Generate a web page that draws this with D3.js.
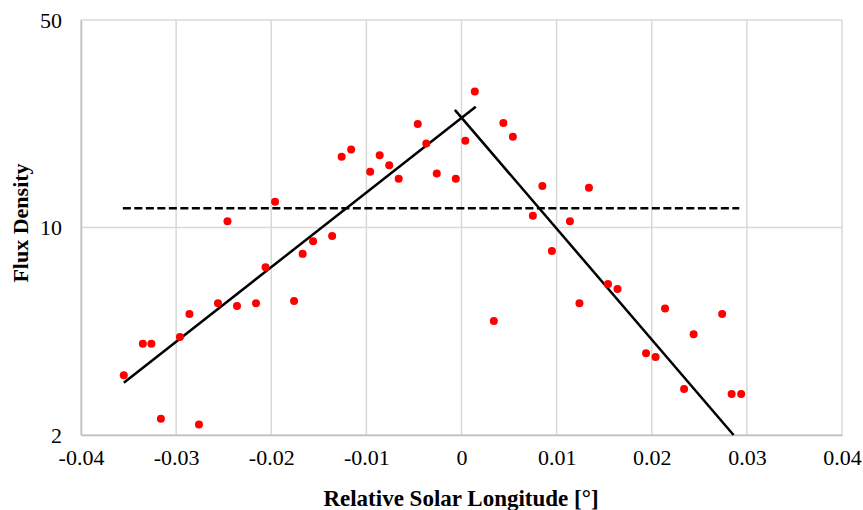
<!DOCTYPE html>
<html>
<head>
<meta charset="utf-8">
<script src="https://cdn.jsdelivr.net/npm/d3@7"></script>
<style>
  html, body { margin: 0; padding: 0; background: #fff; }
  svg { display: block; }
  text { font-family: "Liberation Serif", "Times New Roman", serif; fill: #000; }
</style>
</head>
<body>
<svg id="chart" width="863" height="510"></svg>
<script>
// Relative solar longitude (deg) of each observation
const longitude = [
  -0.0355, -0.0335, -0.0326, -0.0316, -0.0296, -0.0286, -0.0276, -0.0256,
  -0.0246, -0.0236, -0.0216, -0.0206, -0.0196, -0.0176, -0.0167, -0.0156,
  -0.0136, -0.0126, -0.0116, -0.0096, -0.0086, -0.0076, -0.0066, -0.0046,
  -0.0037, -0.0026, -0.0006, 0.0004, 0.0014, 0.0034, 0.0044, 0.0054,
  0.0075, 0.0085, 0.0095, 0.0114, 0.0124, 0.0134, 0.0154, 0.0164,
  0.0194, 0.0204, 0.0214, 0.0234, 0.0244, 0.0274, 0.0284, 0.0294
];
// Measured flux density at each longitude
const flux = [
  3.18, 4.06, 4.06, 2.27, 4.28, 5.11, 2.17, 5.56,
  10.5, 5.44, 5.56, 7.35, 12.2, 5.66, 8.15, 8.99,
  9.36, 17.3, 18.3, 15.4, 17.5, 16.2, 14.6, 22.3,
  19.2, 15.2, 14.6, 19.6, 28.7, 4.84, 22.5, 20.2,
  10.96, 13.8, 8.33, 10.5, 5.56, 13.6, 6.45, 6.21,
  3.77, 3.66, 5.34, 2.86, 4.37, 5.11, 2.75, 2.75
];
// Exponential fits (straight on the log axis): endpoints [longitude, flux]
const risingFit = [[-0.0355, 3.0], [0.0015, 25.5]];
const fallingFit = [[-0.0007, 24.9], [0.0286, 2.0]];
// Background level
const backgroundLevel = 11.6;
const backgroundRange = [-0.0356, 0.0292];

const xTicks = [-0.04, -0.03, -0.02, -0.01, 0, 0.01, 0.02, 0.03, 0.04];
const yTicks = [2, 10, 50];

const W = 863, H = 510;
const margin = { top: 20, right: 21, bottom: 75, left: 81 };
const iw = W - margin.left - margin.right;
const ih = H - margin.top - margin.bottom;

const svg = d3.select("#chart");
const g = svg.append("g").attr("transform", `translate(${margin.left},${margin.top})`);

const x = d3.scaleLinear().domain([-0.04, 0.04]).range([0, iw]);
const y = d3.scaleLog().domain([2, 50]).range([ih, 0]);

// Gridlines
g.append("g").selectAll("line").data(xTicks).join("line")
  .attr("x1", d => x(d)).attr("x2", d => x(d))
  .attr("y1", 0).attr("y2", ih)
  .attr("stroke", "#d9d9d9").attr("stroke-width", 1.5);
g.append("g").selectAll("line").data(yTicks).join("line")
  .attr("x1", 0).attr("x2", iw)
  .attr("y1", d => y(d)).attr("y2", d => y(d))
  .attr("stroke", "#d9d9d9").attr("stroke-width", 1.5);

// Axes
const fmtX = d => d === 0 ? "0" : d3.format(".2f")(d).replace("−", "-");
const xAxis = g.append("g").attr("transform", `translate(0,${ih})`)
  .call(d3.axisBottom(x).tickValues(xTicks).tickFormat(fmtX).tickSize(0).tickPadding(14));
const yAxis = g.append("g")
  .call(d3.axisLeft(y).tickValues(yTicks).tickFormat(d3.format("d")).tickSize(0).tickPadding(19));
[xAxis, yAxis].forEach(a => {
  a.select(".domain").attr("stroke", "#bfbfbf").attr("stroke-width", 1.5);
  a.selectAll("text").style("font-family", '"Liberation Serif", serif')
    .style("font-size", "22px").attr("fill", "#000");
});

// Background level (dashed)
g.append("line")
  .attr("x1", x(backgroundRange[0])).attr("x2", x(backgroundRange[1]))
  .attr("y1", y(backgroundLevel)).attr("y2", y(backgroundLevel))
  .attr("stroke", "#000").attr("stroke-width", 2.5)
  .attr("stroke-dasharray", "8,3.5");

// Fit lines
const line = d3.line().x(d => x(d[0])).y(d => y(d[1]));
[risingFit, fallingFit].forEach(seg => {
  g.append("path").attr("d", line(seg))
    .attr("fill", "none").attr("stroke", "#000").attr("stroke-width", 2.5);
});

// Observations
g.append("g").selectAll("circle").data(longitude.map((v, i) => [v, flux[i]])).join("circle")
  .attr("cx", d => x(d[0])).attr("cy", d => y(d[1])).attr("r", 4)
  .attr("fill", "#ff0000");

// Axis titles
svg.append("text")
  .attr("x", 461).attr("y", 506)
  .attr("text-anchor", "middle")
  .style("font-size", "23px").style("font-weight", "bold")
  .text("Relative Solar Longitude [°]");
svg.append("text")
  .attr("transform", "translate(28,223) rotate(-90)")
  .attr("text-anchor", "middle")
  .style("font-size", "22px").style("font-weight", "bold")
  .text("Flux Density");
</script>
</body>
</html>
